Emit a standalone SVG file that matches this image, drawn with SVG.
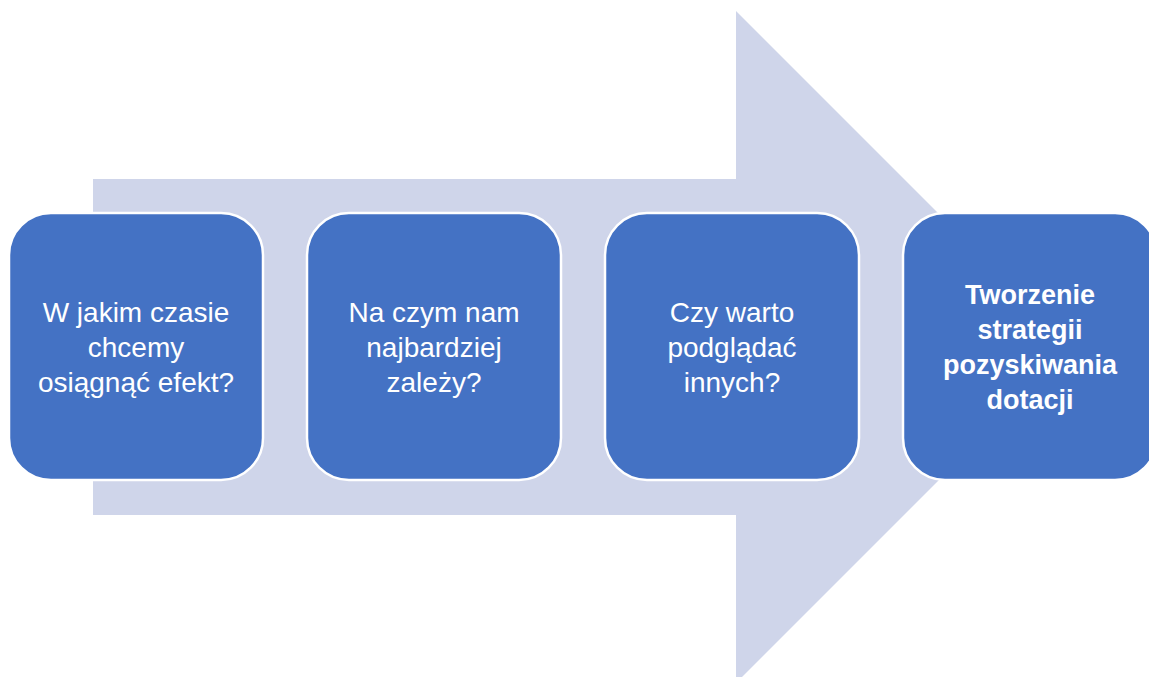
<svg xmlns="http://www.w3.org/2000/svg" width="1149" height="677" viewBox="0 0 1149 677">
<style>
.box{fill:#4472C4;stroke:#FFFFFF;stroke-width:2.5}
.t{font-family:"Liberation Sans",Arial,sans-serif;font-size:28px;fill:#FFFFFF;text-anchor:middle}
.b{font-weight:bold;font-size:27px}
</style>
<rect width="1149" height="677" fill="#FFFFFF"/>
<g id="arrow">
<polygon points="93,179 736,179 736,11 1072,347 736,683 736,515 93,515" fill="#CFD5EA"/>
</g>
<g id="connectors"></g>
<g id="node1">
<rect class="box" x="9" y="213" width="254" height="267" rx="42" ry="42"/>
<text class="t" x="136" y="321.5">W jakim czasie</text>
<text class="t" x="136" y="356.5">chcemy</text>
<text class="t" x="136" y="391.5">osiągnąć efekt?</text>
</g>
<g id="node2">
<rect class="box" x="307" y="213" width="254" height="267" rx="42" ry="42"/>
<text class="t" x="434" y="321.5">Na czym nam</text>
<text class="t" x="434" y="356.5">najbardziej</text>
<text class="t" x="434" y="391.5">zależy?</text>
</g>
<g id="node3">
<rect class="box" x="605" y="213" width="254" height="267" rx="42" ry="42"/>
<text class="t" x="732" y="321.5">Czy warto</text>
<text class="t" x="732" y="356.5">podglądać</text>
<text class="t" x="732" y="391.5">innych?</text>
</g>
<g id="node4">
<rect class="box" x="903" y="213" width="254" height="267" rx="42" ry="42"/>
<text class="t b" x="1030" y="303.5">Tworzenie</text>
<text class="t b" x="1030" y="338.5">strategii</text>
<text class="t b" x="1030" y="373.5">pozyskiwania</text>
<text class="t b" x="1030" y="408.5">dotacji</text>
</g>
</svg>
